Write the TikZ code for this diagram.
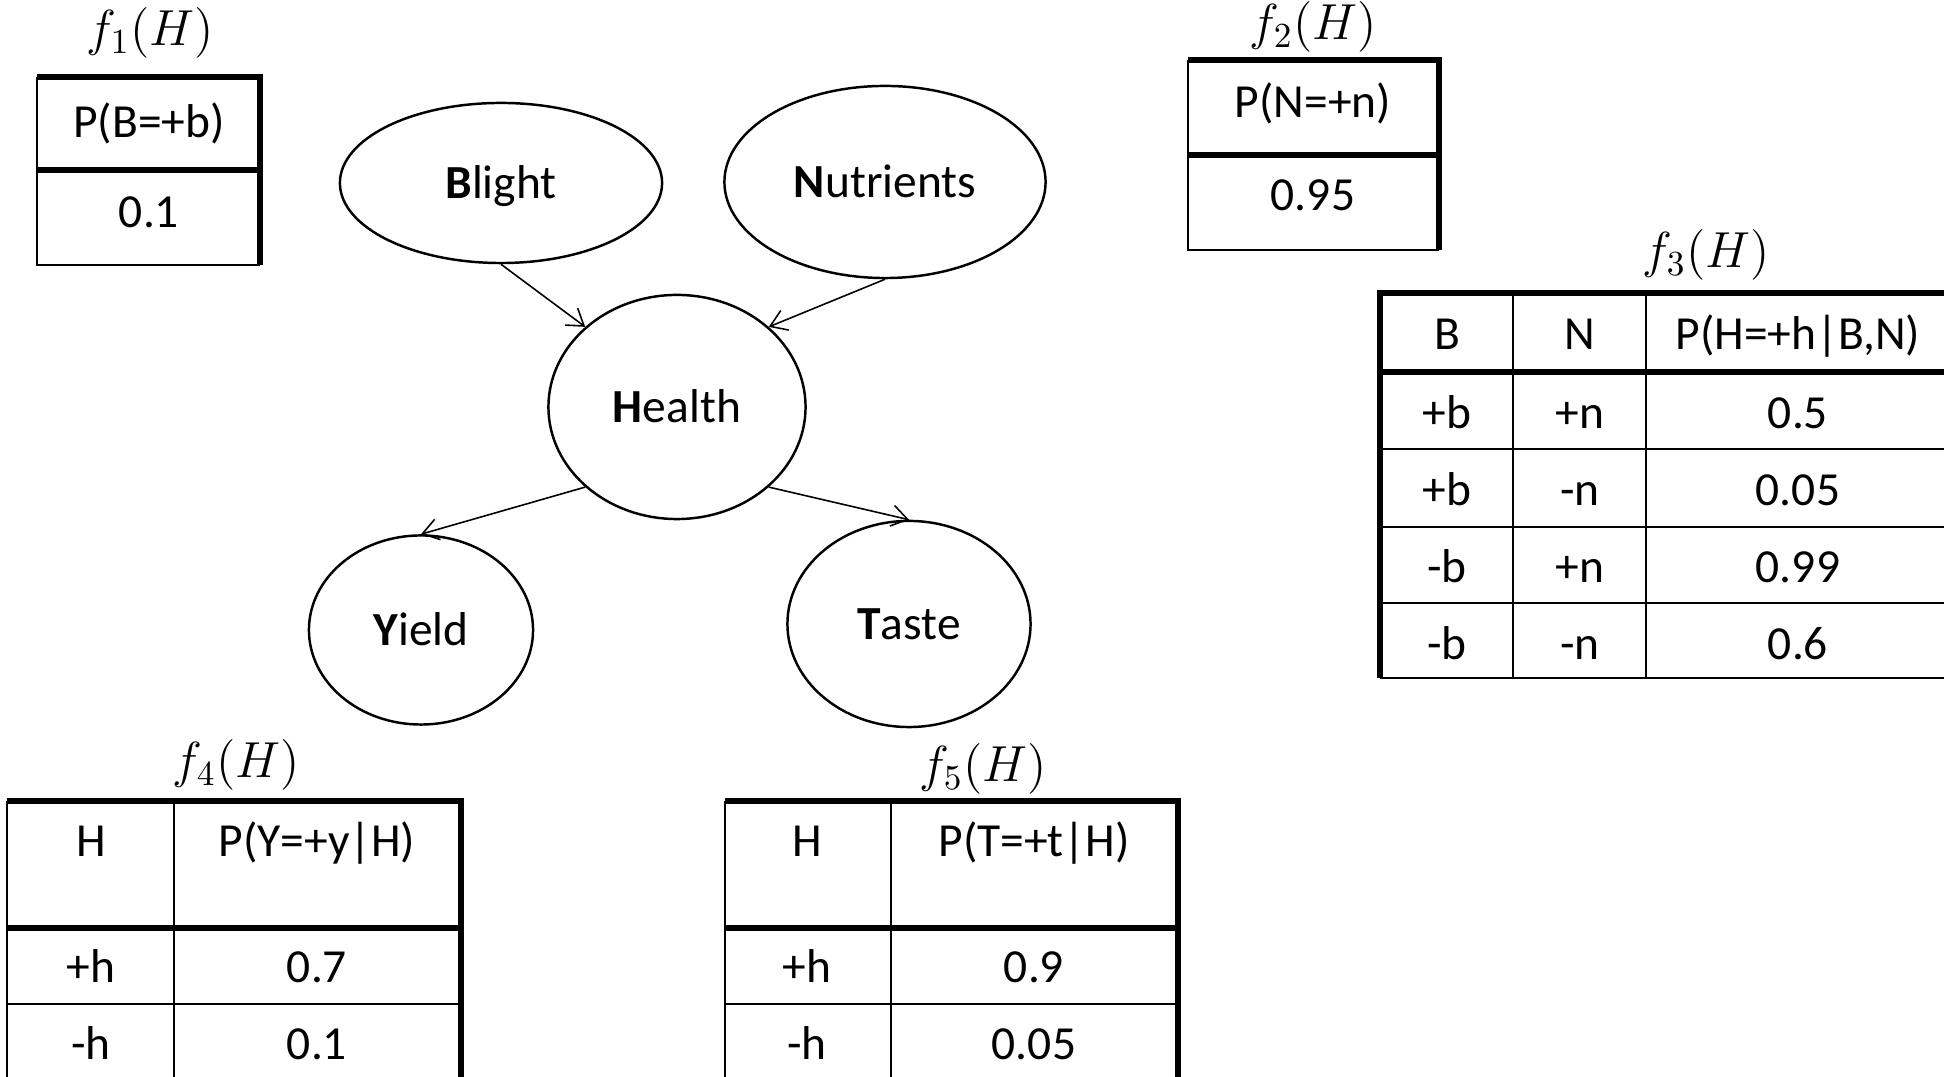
\documentclass[tikz,border=0pt]{standalone}
\usepackage[no-math]{fontspec}
\setmainfont{Carlito}
\usetikzlibrary{arrows.meta,shapes.geometric,positioning}

\tikzset{
    bnode/.style={draw, ellipse, line width=0.7pt, inner sep=0pt, text height=8.7pt, text depth=0pt, font=\fontsize{13.5}{16}\selectfont},
    link/.style={-{Straight Barb[length=4.5pt,width=6pt]}, line width=0.45pt},
    thinrule/.style={line width=0.7pt},
    thickrule/.style={line width=1.5pt},
    celltext/.style={inner sep=0pt, text height=8.7pt, text depth=0pt, font=\fontsize{13.5}{16}\selectfont},
    ftitle/.style={inner sep=0pt, font=\fontsize{14.5}{16}\selectfont}
}

\begin{document}
\begin{tikzpicture}[x=0.01cm, y=-0.01cm]

    \useasboundingbox (0,0) rectangle (1944,1077);

    % network nodes
    \node[bnode, minimum width=3.22cm, minimum height=1.60cm] (blight) at (501,183) {\textbf{B}light};
    \node[bnode, minimum width=3.21cm, minimum height=1.92cm] (nutrients) at (885,182) {\textbf{N}utrients};
    \node[bnode, minimum width=2.57cm, minimum height=2.24cm] (health) at (677,407) {\textbf{H}ealth};
    \node[bnode, minimum width=2.24cm, minimum height=1.89cm] (yield) at (421,630) {\textbf{Y}ield};
    \node[bnode, minimum width=2.43cm, minimum height=2.06cm] (taste) at (909,624) {\textbf{T}aste};

    % arrows
    \draw[link] (blight.south) -- (health.north west);
    \draw[link] (nutrients.south) -- (health.north east);
    \draw[link] (health.south west) -- (yield.north);
    \draw[link] (health.south east) -- (taste.north);

    % table f1
    \node[ftitle] (f1) at (150,33) {$f_1(H)$};
    \draw[thinrule] (37,77) -- (37,265) -- (260,265);
    \draw[thickrule] (37,77) -- (260,77) -- (260,265);
    \draw[thickrule] (37,170) -- (260,170);
    \node[celltext] (f1head) at (149,122) {P(B=+b)};
    \node[celltext] (f1val) at (149,212) {0.1};

    % table f2
    \node[ftitle] (f2) at (1313,27) {$f_2(H)$};
    \draw[thinrule] (1188,60) -- (1188,250) -- (1439,250);
    \draw[thickrule] (1188,60) -- (1439,60) -- (1439,250);
    \draw[thickrule] (1188,155) -- (1439,155);
    \node[celltext] (f2head) at (1313,102) {P(N=+n)};
    \node[celltext] (f2val) at (1313,195) {0.95};

    % table f3
    \node[ftitle] (f3) at (1706,255) {$f_3(H)$};
    \draw[thickrule] (1944,293) -- (1380,293) -- (1380,678);
    \draw[thickrule] (1380,372) -- (1944,372);
    \foreach \y in {449,527,603,678}
        \draw[thinrule] (1380,\y) -- (1944,\y);
    \draw[thinrule] (1513,293) -- (1513,678);
    \draw[thinrule] (1646,293) -- (1646,678);
    \node[celltext] (f3b) at (1447,334) {B};
    \node[celltext] (f3n) at (1580,334) {N};
    \node[celltext] (f3p) at (1798,334) {P(H=+h|B,N)};
    \foreach \b/\n/\p [count=\i] in {+b/+n/0.5, +b/-n/0.05, -b/+n/0.99, -b/-n/0.6} {
        \node[celltext] (f3b\i) at (1447,336+77*\i) {\b};
        \node[celltext] (f3n\i) at (1580,336+77*\i) {\n};
        \node[celltext] (f3p\i) at (1798,336+77*\i) {\p};
    }

    % table f4
    \node[ftitle] (f4) at (236,765) {$f_4(H)$};
    \draw[thinrule] (7,801) -- (7,1077);
    \draw[thinrule] (174,801) -- (174,1077);
    \draw[thinrule] (7,1004) -- (461,1004);
    \draw[thickrule] (7,801) -- (461,801) -- (461,1077);
    \draw[thickrule] (7,928) -- (461,928);
    \node[celltext] (f4h) at (91,841) {H};
    \node[celltext] (f4p) at (317,841) {P(Y=+y|H)};
    \node[celltext] (f4h1) at (91,967) {+h};
    \node[celltext] (f4p1) at (317,967) {0.7};
    \node[celltext] (f4h2) at (91,1044) {-h};
    \node[celltext] (f4p2) at (317,1044) {0.1};

    % table f5
    \node[ftitle] (f5) at (983,769) {$f_5(H)$};
    \draw[thinrule] (725,801) -- (725,1077);
    \draw[thinrule] (891,801) -- (891,1077);
    \draw[thinrule] (725,1004) -- (1178,1004);
    \draw[thickrule] (725,801) -- (1178,801) -- (1178,1077);
    \draw[thickrule] (725,928) -- (1178,928);
    \node[celltext] (f5h) at (807,841) {H};
    \node[celltext] (f5p) at (1034,841) {P(T=+t|H)};
    \node[celltext] (f5h1) at (807,967) {+h};
    \node[celltext] (f5p1) at (1034,967) {0.9};
    \node[celltext] (f5h2) at (807,1044) {-h};
    \node[celltext] (f5p2) at (1034,1044) {0.05};

\end{tikzpicture}
\end{document}
